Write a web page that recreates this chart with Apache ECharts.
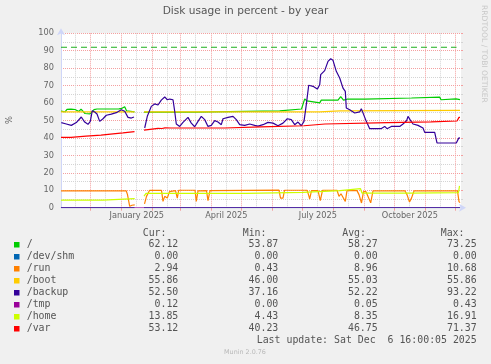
<!DOCTYPE html>
<html><head><meta charset="utf-8">
<script src="https://cdn.jsdelivr.net/npm/echarts@6/dist/echarts.min.js"></script>
<style>html,body{margin:0;padding:0;background:#f0f0f0}#c{width:491px;height:364px}</style>
</head><body><div id="c"></div>
<script>
// ---- data ----
const START = Date.UTC(2024, 10, 1, 16, 0, 0);
const END = Date.UTC(2025, 11, 6, 16, 0, 0);
const DAY = 86400000;

const X_LABELS = ['January 2025', 'April 2025', 'July 2025', 'October 2025'];
const X_LABEL_DATES = [Date.UTC(2025,0,16,12), Date.UTC(2025,3,16,0), Date.UTC(2025,6,16,12), Date.UTC(2025,9,16,12)];
const Y_TICKS = [0, 100, 10];
const WARNING = 92;
const WARNING_SPAN = [0, 395.5]; // day offsets covered by the warning rule

// [day offset from START, value]
const rootPts = [[0,55.4],[2,56.3],[4,55.0],[6,56.4],[8,55.5],[10,56.5],[12,55.4],[14,56.3],[16,55.7],[18,55.2],[20,56.5],[22,55.4],[24,54.0],[29,53.8],[31,54.3],[33,56.2],[36,56.6],[50,56.6],[58,56.7],[61,57.0],[63.7,57.9],[65.5,55.6],[67,55.0],[73.5,54.9],[78,null],[83,54.8],[134.5,54.8],[135.3,55.5],[218.7,55.5],[219.3,56.6],[240.5,56.6],[243.7,62.4],[246,61.2],[248,60.1],[258.7,60.1],[260.3,61.7],[277,61.7],[279.7,63.7],[282.5,61.7],[286,62.2],[304,62.3],[305,62.9],[350.5,62.9],[351.5,63.4],[378.7,63.4],[380,61.9],[381.5,62.4],[395,62.4],[397,61.9],[399,62.0]];
const shmPts = [[0,0],[73.5,0],[78,null],[83,0],[399,0]];
const runPts = [[0,9.6],[65.3,9.6],[66.5,7.5],[68.7,0.8],[71,1.4],[73.7,1.6],[78,null],[83.5,2.2],[85.5,6.5],[88.5,9.9],[100.5,9.9],[102,3.6],[103.7,6.5],[106.3,5.5],[108.5,9.2],[110.3,10.0],[114.5,9.8],[116.3,5.5],[117.7,10.0],[134,10.0],[135.3,3.6],[137,9.6],[145.5,9.8],[147,4.0],[149,9.8],[150,10.1],[218,10.1],[219.5,5.5],[222,5.5],[223.5,10.0],[246,10.0],[247.5,7.5],[248.7,5.0],[250.5,9.8],[257,9.8],[259.3,4.0],[261.5,10.0],[276,10.0],[278,6.5],[280,8.0],[282,7.0],[284.3,3.6],[286,9.8],[296,9.8],[298,7.5],[300.5,2.7],[302.5,9.2],[305,9.2],[309.7,2.8],[312,9.6],[344,9.6],[346,7.5],[348.5,3.3],[350.5,5.5],[353,9.6],[396.5,9.6],[398,3.5],[399,2.9]];
const bootPts = [[0,55.0],[73.5,55.0],[78,null],[83,55.0],[258.5,55.0],[259.5,55.5],[279,55.5],[280,55.86],[399,55.86]];
const backupPts = [[0.3,48.8],[5.3,48.0],[10.3,47.2],[15.3,48.8],[20.3,52.0],[23.7,49.1],[27,47.8],[29.3,49.5],[31.3,55.6],[33.7,54.9],[36,53.7],[38.7,49.5],[42,51.0],[45.3,53.0],[50.3,53.7],[55.3,54.5],[60.3,56.2],[63.7,55.3],[67,51.8],[70.3,51.4],[73,52.0],[78,null],[83.7,45.7],[86.3,52.4],[90.3,58.1],[93.7,59.5],[97,58.9],[100.3,61.7],[103.7,63.5],[106.3,61.9],[108.7,62.3],[112,61.9],[113.7,55.3],[115.3,48.0],[118.7,46.6],[122,48.9],[127,51.8],[130.3,48.5],[133.7,46.4],[137,49.5],[140.3,52.4],[143.7,50.5],[147,46.6],[150.3,47.2],[153.7,49.9],[157,49.1],[160.3,47.6],[162,51.0],[167,51.8],[172,52.4],[175.3,50.5],[178.7,47.6],[183.7,47.2],[188.7,48.0],[193.7,47.2],[197,46.8],[202,47.6],[207,48.9],[212,48.5],[217,47.0],[222,48.5],[226.3,51.0],[230.3,50.5],[233.7,47.6],[237,49.1],[240.3,47.0],[243,49.5],[245.3,59.1],[247.7,70.2],[252,69.6],[256.3,68.0],[258.7,70.5],[259.7,76.3],[263.7,78.6],[267,83.9],[269.7,85.4],[272,84.5],[275.3,78.2],[278.7,74.4],[282,68.6],[284.3,66.7],[285.3,57.2],[288.7,56.2],[293.7,54.3],[298.7,54.9],[300.3,56.8],[302,56.2],[305.3,49.5],[308.7,45.3],[320,45.3],[322,45.6],[323.7,46.6],[326,45.3],[330.3,46.6],[338.7,46.6],[342,48.0],[345.7,50.0],[347,52.4],[349,50.5],[352,48.0],[357,47.2],[362,45.7],[363.7,43.2],[373.7,43.2],[376,37.1],[395.3,37.1],[397.7,39.9],[399,40.0]];
const tmpPts = [[0,0.1],[200,0.12],[399,0.12]];
const homePts = [[0,4.4],[42,4.4],[43.5,5.2],[73.7,5.2],[78,null],[83,6.7],[85,8.2],[185,8.2],[186,8.8],[242,8.8],[243,9.8],[279,9.8],[280,10.9],[299.5,10.9],[301,8.4],[351,8.4],[352,8.7],[397.5,8.7],[398.5,12.5],[399,12.5]];
const varPts = [[0,40.3],[10,40.3],[11,41.0],[25,41.0],[26,41.6],[40,41.6],[41,42.3],[52,42.3],[53,42.9],[62,42.9],[63,43.4],[73.5,43.6],[78,null],[83,44.5],[85,45.5],[97,45.5],[99,45.9],[101,45.4],[104,45.8],[106,45.4],[110,45.7],[163.5,45.7],[164,46.4],[200,46.4],[201,47.0],[243,47.0],[244,48.0],[264,48.0],[265,48.8],[327,48.8],[328,49.2],[370,49.2],[371,49.7],[396,49.7],[398,51.8],[399,51.8]];

const NAMES = ['/', '/dev/shm', '/run', '/boot', '/backup', '/tmp', '/home', '/var'];
const COLORS = ['#00CC00','#0066B3','#FF8000','#FFCC00','#330099','#990099','#CCFF00','#FF0000'];
const SERIES_PTS = [rootPts, shmPts, runPts, bootPts, backupPts, tmpPts, homePts, varPts];
const CUR = ['62.12','0.00','2.94','55.86','52.50','0.12','13.85','53.12'];
const MIN = ['53.87','0.00','0.43','46.00','37.16','0.00','4.43','40.23'];
const AVG = ['58.27','0.00','8.96','55.03','52.22','0.05','8.35','46.75'];
const MAX = ['73.25','0.00','10.68','55.86','93.22','0.43','16.91','71.37'];
const HEADERS = ['Cur:', 'Min:', 'Avg:', 'Max:'];
const TITLE = 'Disk usage in percent - by year';
const LAST_UPDATE = 'Last update: Sat Dec  6 16:00:05 2025';
const VERSION = 'Munin 2.0.76';
const WATERMARK = 'RRDTOOL / TOBI OETIKER';

// ---- build ----
const monthStarts = [];
const midMonths = [];
for (let i = 0; i < 14; i++) {
  const y = 2024 + Math.floor((10 + i) / 12), m = (10 + i) % 12;
  const t = Date.UTC(y, m, 1);
  if (t > START && t < END) monthStarts.push(t);
  const t2 = Date.UTC(y, m, 16);
  if (t2 > START && t2 < END) midMonths.push(t2);
}
const toXY = pts => pts.map(p => [START + p[0] * DAY, p[1]]);

const WARN_COLOR = '#1DB01D';
const series = [{
  name: 'warning', type: 'line', silent: true, showSymbol: false, symbol: 'none', animation: false,
  data: WARNING_SPAN.map(d => [START + d * DAY, WARNING]),
  lineStyle: { color: WARN_COLOR, width: 1, type: [6, 4] }, itemStyle: { color: WARN_COLOR }
}].concat(NAMES.map((n, i) => ({
  name: n, type: 'line', data: toXY(SERIES_PTS[i]), showSymbol: false, symbol: 'none',
  connectNulls: false, animation: false,
  lineStyle: { color: COLORS[i], width: 1.2, opacity: n === '/tmp' ? 0.55 : 1 },
  itemStyle: { color: COLORS[i] }
})));

const FONT = '#666666';
const graphic = [];
graphic.push({ type: 'text', x: 245.5, y: 11.5, style: { text: TITLE, fontFamily: 'DejaVu Sans', fontSize: 10.6, fill: '#555', textAlign: 'center', textVerticalAlign: 'middle' } });
graphic.push({ type: 'text', x: 10, y: 120, rotation: Math.PI / 2, style: { text: '%', fontFamily: 'DejaVu Sans', fontSize: 8.4, fill: FONT, textAlign: 'center', textVerticalAlign: 'middle' } });
graphic.push({ type: 'text', x: 483.5, y: 5, rotation: -Math.PI / 2, style: { text: WATERMARK, fontFamily: 'DejaVu Sans', fontSize: 7.6, fill: '#c8c8c8', textAlign: 'left', textVerticalAlign: 'middle' } });
const MONO = 'DejaVu Sans Mono';
const colRight = [178.3, 278.3, 377.7, 476.7];
const hdrRight = [166.5, 266.5, 366, 464.5];
HEADERS.forEach((h, j) => graphic.push({ type: 'text', x: hdrRight[j], y: 233.3, style: { text: h, fontFamily: MONO, fontSize: 9.9, fill: '#555', textAlign: 'right', textVerticalAlign: 'middle' } }));
NAMES.forEach((n, i) => {
  const yc = 244.7 + 12 * i;
  graphic.push({ type: 'rect', shape: { x: 14, y: yc - 2.7, width: 5.5, height: 5.5 }, style: { fill: COLORS[i] } });
  graphic.push({ type: 'text', x: 26.7, y: yc, style: { text: n, fontFamily: MONO, fontSize: 9.9, fill: '#555', textAlign: 'left', textVerticalAlign: 'middle' } });
  [CUR, MIN, AVG, MAX].forEach((arr, j) => graphic.push({ type: 'text', x: colRight[j], y: yc, style: { text: arr[i], fontFamily: MONO, fontSize: 9.9, fill: '#555', textAlign: 'right', textVerticalAlign: 'middle' } }));
});
graphic.push({ type: 'text', x: 476.7, y: 340.3, style: { text: LAST_UPDATE, fontFamily: MONO, fontSize: 9.9, fill: '#555', textAlign: 'right', textVerticalAlign: 'middle' } });
graphic.push({ type: 'text', x: 245, y: 352.5, style: { text: VERSION, fontFamily: 'DejaVu Sans', fontSize: 6.4, fill: '#b8b8b8', textAlign: 'center', textVerticalAlign: 'middle' } });

const chart = echarts.init(document.getElementById('c'), null, { renderer: 'canvas' });
chart.setOption({
  animation: false,
  backgroundColor: '#f0f0f0',
  grid: { left: 61, right: 30, top: 33.3, bottom: 156.3, show: true, backgroundColor: '#ffffff', borderWidth: 0, outerBoundsMode: 'none' },
  xAxis: [
    {
      type: 'value', min: START, max: END,
      axisLine: { show: true, onZero: false, lineStyle: { color: '#CFD6F8' }, symbol: ['none', 'arrow'], symbolSize: [6, 7], symbolOffset: [0, 5] },
      axisTick: { show: true, customValues: monthStarts, length: 3, lineStyle: { color: '#f4a0a0' } },
      axisLabel: {
        customValues: X_LABEL_DATES, margin: 4, fontSize: 8.2, fontFamily: 'DejaVu Sans', color: FONT,
        formatter: v => { const k = X_LABEL_DATES.indexOf(v); return k >= 0 ? X_LABELS[k] : ''; }
      },
      splitLine: { show: true, lineStyle: { color: '#f4a0a0', type: [1, 1], width: 1 } }
    },
    {
      type: 'value', min: START, max: END, position: 'top',
      axisLine: { show: false }, axisLabel: { show: false },
      axisTick: { show: false, customValues: midMonths },
      splitLine: { show: true, lineStyle: { color: '#d4d4d4', type: [1, 1], width: 1 } }
    }
  ],
  yAxis: [
    {
      type: 'value', min: Y_TICKS[0], max: Y_TICKS[1], interval: Y_TICKS[2],
      axisLine: { show: true, lineStyle: { color: '#CFD6F8' }, symbol: ['none', 'arrow'], symbolSize: [6, 7], symbolOffset: [0, 5] },
      axisTick: { show: false },
      axisLabel: { margin: 7, fontSize: 8.2, fontFamily: 'DejaVu Sans', color: FONT },
      splitLine: { show: true, lineStyle: { color: '#f4a0a0', type: [1, 1], width: 1 } },
      minorTick: { show: false, splitNumber: 2 },
      minorSplitLine: { show: true, lineStyle: { color: '#d4d4d4', type: [1, 1], width: 1 } }
    },
    {
      type: 'value', min: Y_TICKS[0], max: Y_TICKS[1], interval: Y_TICKS[2], position: 'right',
      axisLine: { show: false }, axisLabel: { show: false }, splitLine: { show: false },
      axisTick: { show: true, inside: false, length: 2, lineStyle: { color: '#f4a0a0' } },
      minorTick: { show: true, splitNumber: 2, length: 2, lineStyle: { color: '#d4d4d4' } }
    }
  ],
  series: series,
  graphic: graphic
});
</script>
</body></html>
